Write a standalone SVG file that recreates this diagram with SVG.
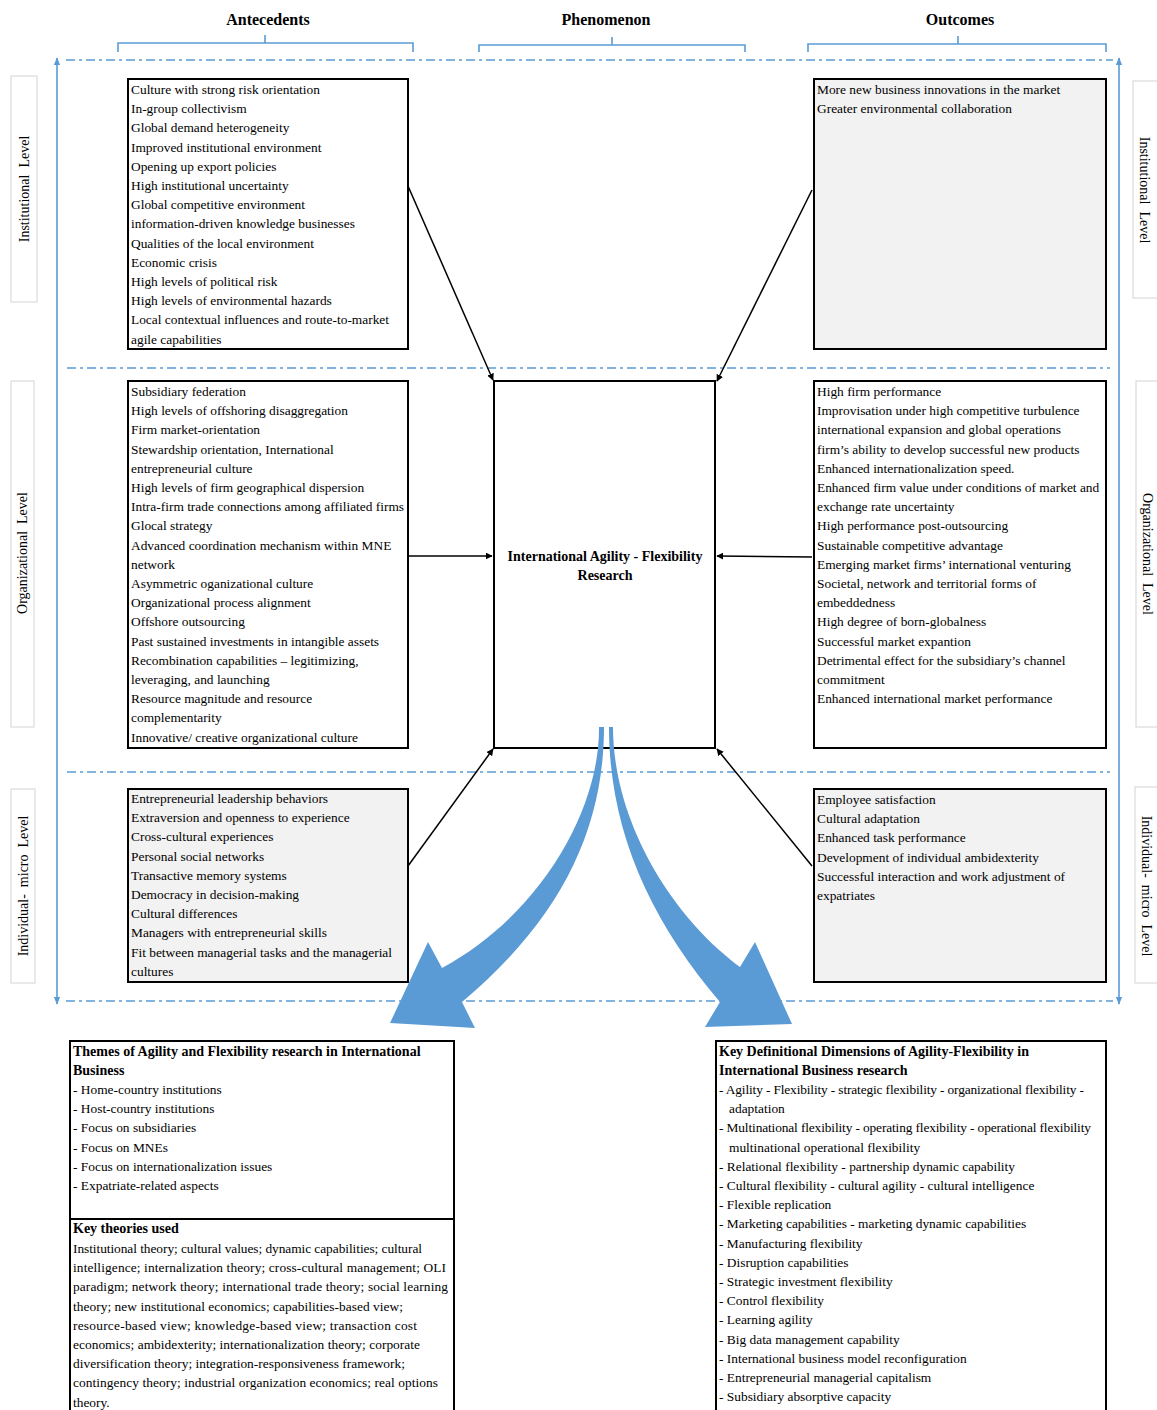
<svg xmlns="http://www.w3.org/2000/svg" width="1157" height="1410" viewBox="0 0 1157 1410">
<defs>
<style>
.t{font-family:"Liberation Serif","Times New Roman",serif;font-size:13.4px;fill:#000}
.b{font-family:"Liberation Serif","Times New Roman",serif;font-size:14px;font-weight:bold;fill:#000}
.h{font-family:"Liberation Serif","Times New Roman",serif;font-size:16px;font-weight:bold;fill:#000}
.lv{font-family:"Liberation Serif","Times New Roman",serif;font-size:14px;fill:#000;white-space:pre}
.box{stroke:#000;stroke-width:2;fill:#fff}
.gbox{stroke:#000;stroke-width:2;fill:#f2f2f2}
.lbox{stroke:#d4d4d4;stroke-width:1;fill:#fff}
.dd{stroke:#5b9bd5;stroke-width:1.6;stroke-dasharray:9 4 3 4;fill:none}
.br{stroke:#5b9bd5;stroke-width:1.6;fill:none}
.ax{stroke:#5b9bd5;stroke-width:1.6;fill:none;marker-start:url(#ba);marker-end:url(#ba)}
.cn{stroke:#000;stroke-width:1.5;fill:none;marker-end:url(#ka)}
.big{fill:#5b9bd5}
</style>
<marker id="ka" viewBox="0 0 10 10" refX="9" refY="5" markerWidth="7" markerHeight="7" orient="auto" markerUnits="userSpaceOnUse">
<path d="M0,0 L10,5 L0,10 Z" fill="#000"/>
</marker>
<marker id="ba" viewBox="0 0 10 10" refX="9" refY="5" markerWidth="8" markerHeight="8" orient="auto-start-reverse" markerUnits="userSpaceOnUse">
<path d="M0,1 L10,5 L0,9 Z" fill="#5b9bd5"/>
</marker>
</defs>

<g id="headers">
<text class="h" x="268" y="25" text-anchor="middle">Antecedents</text>
<text class="h" x="606" y="25" text-anchor="middle">Phenomenon</text>
<text class="h" x="960" y="25" text-anchor="middle">Outcomes</text>
<path class="br" d="M118,52 V43 H413 V52 M265,43 V35"/>
<path class="br" d="M479,52 V45 H745 V52 M612,45 V37"/>
<path class="br" d="M808,52 V44 H1106 V52 M958,44 V36"/>
</g>

<g id="gridlines">
<line class="dd" x1="66" y1="60" x2="1113" y2="60"/>
<line class="dd" x1="67" y1="368" x2="1110" y2="368"/>
<line class="dd" x1="67" y1="772" x2="1110" y2="772"/>
<line class="dd" x1="66" y1="1001" x2="1113" y2="1001"/>
<line class="ax" x1="57" y1="1004" x2="57" y2="58"/>
<line class="ax" x1="1119" y1="58" x2="1119" y2="1004"/>
</g>

<g id="level-labels-left">
<rect class="lbox" x="11" y="76" width="26" height="226"/>
<text class="lv" transform="translate(29,189) rotate(-90)" text-anchor="middle">Institutional  Level</text>
<rect class="lbox" x="11" y="381" width="23" height="346"/>
<text class="lv" transform="translate(27,553) rotate(-90)" text-anchor="middle">Organizational  Level</text>
<rect class="lbox" x="11" y="789" width="24" height="194"/>
<text class="lv" transform="translate(28,886) rotate(-90)" text-anchor="middle">Individual-  micro  Level</text>
</g>

<g id="level-labels-right">
<rect class="lbox" x="1133" y="81" width="30" height="217"/>
<text class="lv" transform="translate(1140,190) rotate(90)" text-anchor="middle">Institutional  Level</text>
<rect class="lbox" x="1136" y="381" width="27" height="346"/>
<text class="lv" transform="translate(1143,554) rotate(90)" text-anchor="middle">Organizational  Level</text>
<rect class="lbox" x="1135" y="787" width="28" height="196"/>
<text class="lv" transform="translate(1142,886) rotate(90)" text-anchor="middle">Individual-  micro  Level</text>
</g>

<g id="ante-institutional">
<rect class="box" x="128" y="79" width="280" height="270"/>
<text class="t" x="131" y="94">
<tspan x="131" dy="0">Culture with strong risk orientation</tspan>
<tspan x="131" dy="19.2">In-group collectivism</tspan>
<tspan x="131" dy="19.2">Global demand heterogeneity</tspan>
<tspan x="131" dy="19.2">Improved institutional environment</tspan>
<tspan x="131" dy="19.2">Opening up export policies</tspan>
<tspan x="131" dy="19.2">High institutional uncertainty</tspan>
<tspan x="131" dy="19.2">Global competitive environment</tspan>
<tspan x="131" dy="19.2">information-driven knowledge businesses</tspan>
<tspan x="131" dy="19.2">Qualities of the local environment</tspan>
<tspan x="131" dy="19.2">Economic crisis</tspan>
<tspan x="131" dy="19.2">High levels of political risk</tspan>
<tspan x="131" dy="19.2">High levels of environmental hazards</tspan>
<tspan x="131" dy="19.2">Local contextual influences and route-to-market</tspan>
<tspan x="131" dy="19.2">agile capabilities</tspan>
</text>
</g>

<g id="ante-organizational">
<rect class="box" x="128" y="381" width="280" height="367"/>
<text class="t" x="131" y="396">
<tspan x="131" dy="0">Subsidiary federation</tspan>
<tspan x="131" dy="19.2">High levels of offshoring disaggregation</tspan>
<tspan x="131" dy="19.2">Firm market-orientation</tspan>
<tspan x="131" dy="19.2">Stewardship orientation, International</tspan>
<tspan x="131" dy="19.2">entrepreneurial culture</tspan>
<tspan x="131" dy="19.2">High levels of firm geographical dispersion</tspan>
<tspan x="131" dy="19.2">Intra-firm trade connections among affiliated firms</tspan>
<tspan x="131" dy="19.2">Glocal strategy</tspan>
<tspan x="131" dy="19.2">Advanced coordination mechanism within MNE</tspan>
<tspan x="131" dy="19.2">network</tspan>
<tspan x="131" dy="19.2">Asymmetric oganizational culture</tspan>
<tspan x="131" dy="19.2">Organizational process alignment</tspan>
<tspan x="131" dy="19.2">Offshore outsourcing</tspan>
<tspan x="131" dy="19.2">Past sustained investments in intangible assets</tspan>
<tspan x="131" dy="19.2">Recombination capabilities – legitimizing,</tspan>
<tspan x="131" dy="19.2">leveraging, and launching</tspan>
<tspan x="131" dy="19.2">Resource magnitude and resource</tspan>
<tspan x="131" dy="19.2">complementarity</tspan>
<tspan x="131" dy="19.2">Innovative/ creative organizational culture</tspan>
</text>
</g>

<g id="ante-individual">
<rect class="gbox" x="128" y="789" width="280" height="193"/>
<text class="t" x="131" y="803">
<tspan x="131" dy="0">Entrepreneurial leadership behaviors</tspan>
<tspan x="131" dy="19.2">Extraversion and openness to experience</tspan>
<tspan x="131" dy="19.2">Cross-cultural experiences</tspan>
<tspan x="131" dy="19.2">Personal social networks</tspan>
<tspan x="131" dy="19.2">Transactive memory systems</tspan>
<tspan x="131" dy="19.2">Democracy in decision-making</tspan>
<tspan x="131" dy="19.2">Cultural differences</tspan>
<tspan x="131" dy="19.2">Managers with entrepreneurial skills</tspan>
<tspan x="131" dy="19.2">Fit between managerial tasks and the managerial</tspan>
<tspan x="131" dy="19.2">cultures</tspan>
</text>
</g>

<g id="phenomenon">
<rect class="box" x="494" y="381" width="221" height="367"/>
<text class="b" x="605" y="561" text-anchor="middle">International Agility - Flexibility</text>
<text class="b" x="605" y="580" text-anchor="middle">Research</text>
</g>

<g id="out-institutional">
<rect class="gbox" x="814" y="79" width="292" height="270"/>
<text class="t" x="817" y="94">
<tspan x="817" dy="0">More new business innovations in the market</tspan>
<tspan x="817" dy="19.2">Greater environmental collaboration</tspan>
</text>
</g>

<g id="out-organizational">
<rect class="box" x="814" y="381" width="292" height="367"/>
<text class="t" x="817" y="396">
<tspan x="817" dy="0">High firm performance</tspan>
<tspan x="817" dy="19.2">Improvisation under high competitive turbulence</tspan>
<tspan x="817" dy="19.2">international expansion and global operations</tspan>
<tspan x="817" dy="19.2">firm’s ability to develop successful new products</tspan>
<tspan x="817" dy="19.2">Enhanced internationalization speed.</tspan>
<tspan x="817" dy="19.2">Enhanced firm value under conditions of market and</tspan>
<tspan x="817" dy="19.2">exchange rate uncertainty</tspan>
<tspan x="817" dy="19.2">High performance post-outsourcing</tspan>
<tspan x="817" dy="19.2">Sustainable competitive advantage</tspan>
<tspan x="817" dy="19.2">Emerging market firms’ international venturing</tspan>
<tspan x="817" dy="19.2">Societal, network and territorial forms of</tspan>
<tspan x="817" dy="19.2">embeddedness</tspan>
<tspan x="817" dy="19.2">High degree of born-globalness</tspan>
<tspan x="817" dy="19.2">Successful market expantion</tspan>
<tspan x="817" dy="19.2">Detrimental effect for the subsidiary’s channel</tspan>
<tspan x="817" dy="19.2">commitment</tspan>
<tspan x="817" dy="19.2">Enhanced international market performance</tspan>
</text>
</g>

<g id="out-individual">
<rect class="gbox" x="814" y="789" width="292" height="193"/>
<text class="t" x="817" y="804">
<tspan x="817" dy="0">Employee satisfaction</tspan>
<tspan x="817" dy="19.2">Cultural adaptation</tspan>
<tspan x="817" dy="19.2">Enhanced task performance</tspan>
<tspan x="817" dy="19.2">Development of individual ambidexterity</tspan>
<tspan x="817" dy="19.2">Successful interaction and work adjustment of</tspan>
<tspan x="817" dy="19.2">expatriates</tspan>
</text>
</g>

<g id="connectors">
<line class="cn" x1="408" y1="186" x2="493" y2="380"/>
<line class="cn" x1="812" y1="190" x2="717" y2="381"/>
<line class="cn" x1="408" y1="556" x2="492" y2="556"/>
<line class="cn" x1="812" y1="557" x2="717" y2="556"/>
<line class="cn" x1="408" y1="866" x2="493" y2="749"/>
<line class="cn" x1="812" y1="866" x2="717" y2="749"/>
<path class="big" d="M604,727 C604,830 560,920 462,1002 L475,1028 L390,1023 L428,942 L442,968 C540,915 600,810 599,727 Z"/>
<path class="big" d="M609,727 C609,830 650,920 720,1002 L705,1027 L792,1024 L755,942 L740,967 C670,915 613,820 613,727 Z"/>
</g>

<g id="themes">
<rect class="box" x="70" y="1041" width="384" height="380"/>
<line x1="70" y1="1219" x2="454" y2="1219" stroke="#000" stroke-width="2"/>
<text class="b" x="73" y="1056">
<tspan x="73" dy="0">Themes of Agility and Flexibility research in International</tspan>
<tspan x="73" dy="19.2">Business</tspan>
</text>
<text class="t" x="73" y="1094">
<tspan x="73" dy="0">- Home-country institutions</tspan>
<tspan x="73" dy="19.2">- Host-country institutions</tspan>
<tspan x="73" dy="19.2">- Focus on subsidiaries</tspan>
<tspan x="73" dy="19.2">- Focus on MNEs</tspan>
<tspan x="73" dy="19.2">- Focus on internationalization issues</tspan>
<tspan x="73" dy="19.2">- Expatriate-related aspects</tspan>
</text>
<text class="b" x="73" y="1233">Key theories used</text>
<text class="t" x="73" y="1253">
<tspan x="73" dy="0" textLength="349">Institutional theory; cultural values; dynamic capabilities; cultural</tspan>
<tspan x="73" dy="19.2" textLength="373">intelligence; internalization theory; cross-cultural management; OLI</tspan>
<tspan x="73" dy="19.2" textLength="375">paradigm; network theory; international trade theory; social learning</tspan>
<tspan x="73" dy="19.2" textLength="330">theory; new institutional economics; capabilities-based view;</tspan>
<tspan x="73" dy="19.2" textLength="344">resource-based view; knowledge-based view; transaction cost</tspan>
<tspan x="73" dy="19.2" textLength="347">economics; ambidexterity; internationalization theory; corporate</tspan>
<tspan x="73" dy="19.2" textLength="332">diversification theory; integration-responsiveness framework;</tspan>
<tspan x="73" dy="19.2" textLength="365">contingency theory; industrial organization economics; real options</tspan>
<tspan x="73" dy="19.2">theory.</tspan>
</text>
</g>

<g id="dimensions">
<rect class="box" x="716" y="1041" width="390" height="380"/>
<text class="b" x="719" y="1056">
<tspan x="719" dy="0">Key Definitional Dimensions of Agility-Flexibility in</tspan>
<tspan x="719" dy="19.2">International Business research</tspan>
</text>
<text class="t" x="719" y="1094">
<tspan x="719" dy="0" textLength="365">- Agility - Flexibility - strategic flexibility - organizational flexibility -</tspan>
<tspan x="729" dy="19.2">adaptation</tspan>
<tspan x="719" dy="19.2" textLength="372">- Multinational flexibility - operating flexibility - operational flexibility</tspan>
<tspan x="729" dy="19.2">multinational operational flexibility</tspan>
<tspan x="719" dy="19.2">- Relational flexibility - partnership dynamic capability</tspan>
<tspan x="719" dy="19.2">- Cultural flexibility - cultural agility - cultural intelligence</tspan>
<tspan x="719" dy="19.2">- Flexible replication</tspan>
<tspan x="719" dy="19.2">- Marketing capabilities - marketing dynamic capabilities</tspan>
<tspan x="719" dy="19.2">- Manufacturing flexibility</tspan>
<tspan x="719" dy="19.2">- Disruption capabilities</tspan>
<tspan x="719" dy="19.2">- Strategic investment flexibility</tspan>
<tspan x="719" dy="19.2">- Control flexibility</tspan>
<tspan x="719" dy="19.2">- Learning agility</tspan>
<tspan x="719" dy="19.2">- Big data management capability</tspan>
<tspan x="719" dy="19.2">- International business model reconfiguration</tspan>
<tspan x="719" dy="19.2">- Entrepreneurial managerial capitalism</tspan>
<tspan x="719" dy="19.2">- Subsidiary absorptive capacity</tspan>
</text>
</g>
</svg>
